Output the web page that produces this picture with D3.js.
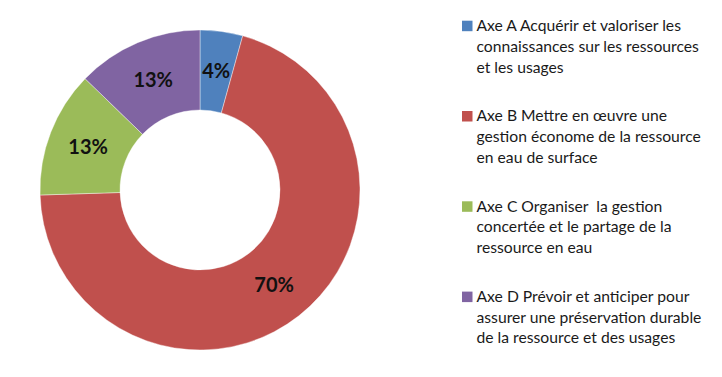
<!DOCTYPE html>
<html>
<head>
<meta charset="utf-8">
<script src="https://cdn.jsdelivr.net/npm/d3@7"></script>
<style>
  body { margin: 0; background: #fff; }
  svg { display: block; }
</style>
</head>
<body>
<svg></svg>
<script>
const categories = ['Axe A', 'Axe B', 'Axe C', 'Axe D'];
const values = [4.3, 70.2, 12.75, 12.75];
const labels = ['4%', '70%', '13%', '13%'];
const legendLines = [
    ['Axe A Acquérir et valoriser les', 'connaissances sur les ressources', 'et les usages'],
    ['Axe B Mettre en œuvre une', 'gestion économe de la ressource', 'en eau de surface'],
    ['Axe C Organiser  la gestion', 'concertée et le partage de la', 'ressource en eau'],
    ['Axe D Prévoir et anticiper pour', 'assurer une préservation durable', 'de la ressource et des usages']
];
const colors = ['#4F81BD', '#C0504D', '#9BBB59', '#8064A2'];

const svgWidth = 722;
const svgHeight = 377;
const cx = 200, cy = 190;
const outerR = 160, innerR = 80;

const svg = d3.select('svg')
    .attr('width', svgWidth)
    .attr('height', svgHeight);

const color = d3.scaleOrdinal().domain(categories).range(colors);

const pie = d3.pie().sort(null).value(d => d.value);
const arcs = pie(categories.map((c, i) => ({ cat: c, value: values[i], label: labels[i] })));

const arc = d3.arc().innerRadius(innerR).outerRadius(outerR);
const labelArc = d3.arc().innerRadius(120).outerRadius(120);

const g = svg.append('g')
    .attr('transform', `translate(${cx}, ${cy})`);

g.selectAll('path')
    .data(arcs)
    .enter()
    .append('path')
    .attr('d', arc)
    .attr('fill', d => color(d.data.cat))
    .attr('stroke', '#fff')
    .attr('stroke-width', 0.4);

g.selectAll('text')
    .data(arcs)
    .enter()
    .append('text')
    .attr('transform', d => `translate(${labelArc.centroid(d)})`)
    .attr('text-anchor', 'middle')
    .attr('dy', '0.36em')
    .attr('font-family', 'Lato, "Open Sans", sans-serif')
    .attr('font-weight', 'bold')
    .attr('font-size', '20px')
    .attr('fill', '#111')
    .text(d => d.data.label);

// legend
const legend = svg.append('g')
    .attr('transform', 'translate(462, 20.7)');

const item = legend.selectAll('g')
    .data(categories)
    .enter()
    .append('g')
    .attr('transform', (d, i) => `translate(0, ${i * 90.3})`);

item.append('rect')
    .attr('width', 10.5)
    .attr('height', 10.5)
    .attr('fill', d => color(d));

item.append('text')
    .attr('x', 14.5)
    .attr('y', 10.3)
    .attr('font-family', 'Lato, "Open Sans", sans-serif')
    .attr('font-size', '15.7px')
    .attr('fill', '#1a1a1a')
    .selectAll('tspan')
    .data((d, i) => legendLines[i])
    .enter()
    .append('tspan')
    .attr('x', 14.5)
    .attr('dy', (d, i) => i === 0 ? 0 : 20.8)
    .attr('xml:space', 'preserve')
    .text(d => d);
</script>
</body>
</html>
